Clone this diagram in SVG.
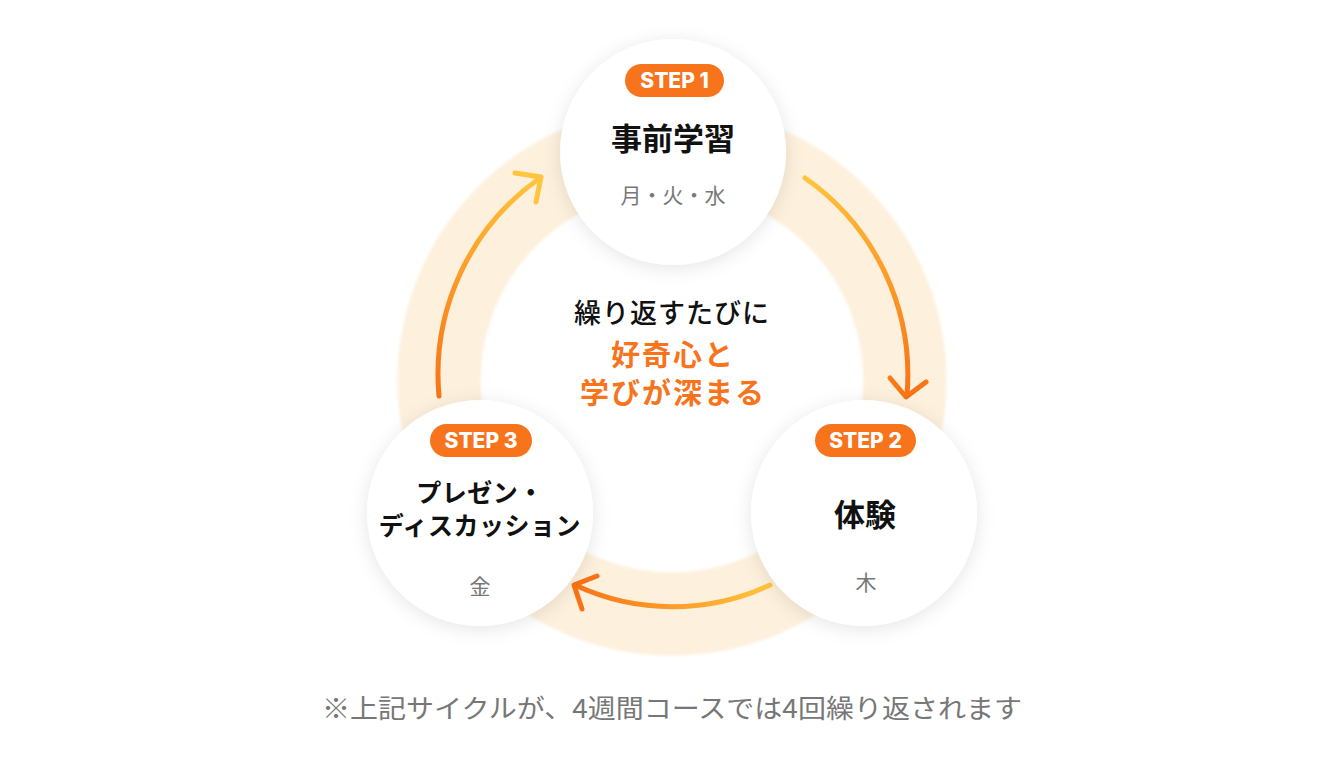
<svg xmlns="http://www.w3.org/2000/svg" width="1344" height="772" viewBox="0 0 1344 772">
<defs>
<style>
.jp{font-family:"Noto Sans CJK JP","Noto Sans",sans-serif;}
.title{font-weight:700;font-size:31px;fill:#111;text-anchor:middle;}
.title.small{font-size:25px;letter-spacing:0.5px;}
.day{font-weight:400;font-size:21px;fill:#777;text-anchor:middle;}
.badge{fill:#F7731C;}
.badgeText{font-family:"Inter","Open Sans",sans-serif;font-weight:800;font-size:21px;fill:#fff;text-anchor:middle;}
.node{fill:#fff;filter:url(#sh);}
.arr{fill:none;stroke-width:5;stroke-linecap:round;stroke-linejoin:round;}
.hl{font-size:29px;font-weight:700;fill:#F7731C;letter-spacing:2px;}
</style>
<filter id="sh" x="-30%" y="-30%" width="160%" height="160%">
<feDropShadow dx="0" dy="3" stdDeviation="9" flood-color="#000" flood-opacity="0.10"/>
</filter>
<filter id="soft" x="-10%" y="-10%" width="120%" height="120%">
<feGaussianBlur stdDeviation="1.5"/>
</filter>
<linearGradient id="gR" gradientUnits="userSpaceOnUse" x1="805" y1="178" x2="907" y2="397">
<stop offset="0" stop-color="#FFC53D"/><stop offset="1" stop-color="#F97316"/>
</linearGradient>
<linearGradient id="gB" gradientUnits="userSpaceOnUse" x1="770" y1="585" x2="574" y2="585">
<stop offset="0" stop-color="#FFC53D"/><stop offset="1" stop-color="#F97316"/>
</linearGradient>
<linearGradient id="gL" gradientUnits="userSpaceOnUse" x1="439" y1="397" x2="541" y2="177">
<stop offset="0" stop-color="#F97316"/><stop offset="1" stop-color="#FFC53D"/>
</linearGradient>
</defs>
<rect width="1344" height="772" fill="#fff"/>
<circle cx="672" cy="381" r="233" fill="none" stroke="#FDF0DC" stroke-width="83" filter="url(#soft)"/>
<g id="connectors">
<path class="arr" stroke="url(#gR)" d="M805 178 A240 240 0 0 1 907 395"/>
<path class="arr" stroke="url(#gR)" d="M890 378 L906 397 L926 382"/>
<path class="arr" stroke="url(#gB)" d="M770 585 A230 230 0 0 1 575 585"/>
<path class="arr" stroke="#F97316" d="M597 576 L574 585 L582 609"/>
<path class="arr" stroke="url(#gL)" d="M439 396 A240 240 0 0 1 540 178"/>
<path class="arr" stroke="#FFC53D" d="M515 173 L541 177 L536 202"/>
</g>
<g id="center-text" class="jp" text-anchor="middle">
<text x="672" y="323" font-size="27" font-weight="500" fill="#111" letter-spacing="1">繰り返すたびに</text>
<text class="hl" x="673" y="366">好奇心と</text>
<text class="hl" x="673" y="404">学びが深まる</text>
</g>
<g id="step1">
<circle class="node" cx="673" cy="152" r="113"/>
<rect class="badge" x="625" y="64" width="99" height="33" rx="16.5"/>
<text class="badgeText" x="674.5" y="88">STEP 1</text>
<text class="jp title" x="673" y="150">事前学習</text>
<text class="jp day" x="673" y="203">月・火・水</text>
</g>
<g id="step2">
<circle class="node" cx="864" cy="513" r="113"/>
<rect class="badge" x="815" y="424" width="101" height="33" rx="16.5"/>
<text class="badgeText" x="865.5" y="448">STEP 2</text>
<text class="jp title" x="865" y="526">体験</text>
<text class="jp day" x="866" y="590">木</text>
</g>
<g id="step3">
<circle class="node" cx="480" cy="513" r="113"/>
<rect class="badge" x="430" y="424" width="102" height="33" rx="16.5"/>
<text class="badgeText" x="481" y="448">STEP 3</text>
<text class="jp title small" x="480" y="502">プレゼン・</text>
<text class="jp title small" x="480" y="535">ディスカッション</text>
<text class="jp day" x="480" y="594">金</text>
</g>
<g id="footer">
<text class="jp" x="672" y="718" font-size="26" fill="#777" text-anchor="middle" textLength="700" lengthAdjust="spacingAndGlyphs">※上記サイクルが、4週間コースでは4回繰り返されます</text>
</g>
</svg>
